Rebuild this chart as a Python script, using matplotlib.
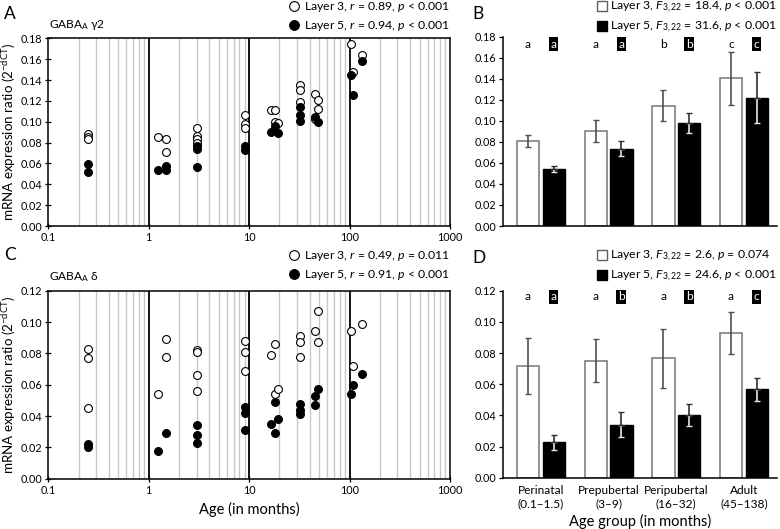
import matplotlib
matplotlib.use("Agg")
import matplotlib.pyplot as plt
from matplotlib.lines import Line2D
import numpy as np

plt.rcParams['font.family'] = ['Lato', 'DejaVu Sans']
plt.rcParams['mathtext.fontset'] = 'custom'
plt.rcParams['mathtext.rm'] = 'Lato'
plt.rcParams['mathtext.it'] = 'Lato:italic'
plt.rcParams['mathtext.default'] = 'regular'

# ---------------- data ----------------
# Panel A: GABAA gamma2 (age in months, expression ratio)
a_l3_age = [0.25, 0.25, 0.25, 1.25, 1.5, 1.5, 3, 3, 3, 3, 9, 9, 9, 16.5, 18, 18, 19.5,
            32, 32, 32, 45, 45, 48, 48, 103, 109, 133]
a_l3_val = [0.088, 0.085, 0.083, 0.085, 0.083, 0.071, 0.094, 0.086, 0.083, 0.080,
            0.106, 0.098, 0.094, 0.111, 0.111, 0.100, 0.099,
            0.135, 0.130, 0.119, 0.127, 0.103, 0.121, 0.112, 0.175, 0.148, 0.164]
a_l5_age = [0.25, 0.25, 1.25, 1.5, 1.5, 3, 3, 3, 9, 9, 16.5, 18, 19.5,
            32, 32, 32, 45, 48, 103, 109, 133]
a_l5_val = [0.059, 0.052, 0.054, 0.058, 0.054, 0.077, 0.074, 0.057, 0.077, 0.073,
            0.090, 0.096, 0.089, 0.114, 0.106, 0.101, 0.105, 0.100, 0.145, 0.126, 0.158]

# Panel C: GABAA delta
c_l3_age = [0.25, 0.25, 0.25, 1.25, 1.5, 1.5, 3, 3, 3, 3, 9, 9, 9, 16.5, 18, 18, 19.5,
            32, 32, 32, 45, 48, 48, 103, 109, 133]
c_l3_val = [0.083, 0.077, 0.045, 0.054, 0.089, 0.078, 0.082, 0.081, 0.066, 0.056,
            0.088, 0.081, 0.069, 0.079, 0.086, 0.054, 0.057,
            0.091, 0.087, 0.078, 0.094, 0.107, 0.087, 0.094, 0.072, 0.099]
c_l5_age = [0.25, 0.25, 1.25, 1.5, 3, 3, 3, 9, 9, 9, 16.5, 18, 18, 19.5,
            32, 32, 32, 45, 45, 48, 103, 109, 133]
c_l5_val = [0.022, 0.020, 0.018, 0.029, 0.034, 0.028, 0.023, 0.046, 0.042, 0.031,
            0.035, 0.049, 0.029, 0.038, 0.048, 0.044, 0.041, 0.053, 0.047, 0.057,
            0.054, 0.060, 0.067]

# Panels B and D: group means and error bars
groups = ['Perinatal\n(0.1\u20131.5)', 'Prepubertal\n(3\u20139)',
          'Peripubertal\n(16\u201332)', 'Adult\n(45\u2013138)']
b_l3_mean = [0.081, 0.0905, 0.1145, 0.1405]
b_l3_err = [0.006, 0.0105, 0.0145, 0.025]
b_l5_mean = [0.0545, 0.0735, 0.098, 0.122]
b_l5_err = [0.003, 0.0073, 0.0093, 0.024]
b_l3_letters = ['a', 'a', 'b', 'c']
b_l5_letters = ['a', 'a', 'b', 'c']

d_l3_mean = [0.0716, 0.0752, 0.0765, 0.093]
d_l3_err = [0.018, 0.014, 0.0187, 0.0134]
d_l5_mean = [0.0227, 0.0339, 0.0401, 0.0566]
d_l5_err = [0.0049, 0.0080, 0.0072, 0.0072]
d_l3_letters = ['a', 'a', 'a', 'a']
d_l5_letters = ['a', 'b', 'b', 'c']

W, H = 780, 529
fig = plt.figure(figsize=(W / 100, H / 100), dpi=100)


def rect(l, t, r, b):
    return [l / W, 1 - b / H, (r - l) / W, (b - t) / H]


axA = fig.add_axes(rect(48.3, 38.3, 450, 226))
axC = fig.add_axes(rect(48.3, 290.7, 450, 478.7))
axB = fig.add_axes(rect(503.3, 36.7, 776.7, 226))
axD = fig.add_axes(rect(503.3, 290.7, 776.7, 477.7))

TICK = 7.8
LEG = 8.8


def put_legend(ax, handles, labels, top_px, right_px, hl, htp):
    ax.legend(handles, labels, loc='upper right',
              bbox_to_anchor=(right_px / W, 1 - top_px / H), bbox_transform=fig.transFigure,
              frameon=False, fontsize=LEG, handlelength=hl, handletextpad=htp,
              borderpad=0, borderaxespad=0, labelspacing=0.42)


def scatter_panel(ax, l3a, l3v, l5a, l5v, ymax, title, leg_labels, leg_top):
    ax.set_xscale('log')
    ax.set_xlim(0.1, 1000)
    ax.set_ylim(0, ymax)
    for dec in [0.1, 1, 10, 100]:
        for k in range(2, 10):
            ax.axvline(dec * k, color='#c8c8c8', lw=1.0, zorder=0)
    for v in [1, 10, 100]:
        ax.axvline(v, color='black', lw=1.3, zorder=1)
    ax.scatter(l3a, l3v, s=32, facecolors='white', edgecolors='black', linewidths=0.8, zorder=3)
    ax.scatter(l5a, l5v, s=32, facecolors='black', edgecolors='black', linewidths=0.8, zorder=4)
    yt = np.arange(0, ymax + 1e-9, 0.02)
    ax.set_yticks(yt)
    ax.set_yticklabels(['%.2f' % v for v in yt])
    ax.set_xticks([0.1, 1, 10, 100, 1000])
    ax.set_xticklabels(['0.1', '1', '10', '100', '1000'])
    ax.xaxis.set_minor_locator(matplotlib.ticker.NullLocator())
    ax.tick_params(axis='both', which='major', direction='inout', length=5, width=0.9,
                   labelsize=TICK, pad=2)
    for s in ax.spines.values():
        s.set_linewidth(1.1)
    ax.set_ylabel('mRNA expression ratio (2$^{\\mathregular{-dCT}}$)', fontsize=9.6,
                  va='center')
    ax.yaxis.set_label_coords((9.5 - 48.3) / (450 - 48.3), 0.5)
    ax.text(0.002, 1.035, title, transform=ax.transAxes, fontsize=8.6, ha='left', va='bottom')
    handles = [Line2D([], [], ls='none', marker='o', ms=7, mfc='white', mec='black', mew=0.8),
               Line2D([], [], ls='none', marker='o', ms=7, mfc='black', mec='black', mew=0.8)]
    put_legend(ax, handles, leg_labels, leg_top, 450, 0.9, 0.35)


scatter_panel(axA, a_l3_age, a_l3_val, a_l5_age, a_l5_val, 0.18,
              'GABA$_{\\mathregular{A}}$ \u03b32',
              ['Layer 3, $\\mathit{r}$ = 0.89, $\\mathit{p}$ < 0.001',
               'Layer 5, $\\mathit{r}$ = 0.94, $\\mathit{p}$ < 0.001'], 0)
scatter_panel(axC, c_l3_age, c_l3_val, c_l5_age, c_l5_val, 0.12,
              'GABA$_{\\mathregular{A}}$ \u03b4',
              ['Layer 3, $\\mathit{r}$ = 0.49, $\\mathit{p}$ = 0.011',
               'Layer 5, $\\mathit{r}$ = 0.91, $\\mathit{p}$ < 0.001'], 249)
axC.set_xlabel('Age (in months)', fontsize=10.5, labelpad=4)


def bar_panel(ax, m3, e3, m5, e5, l3, l5, ymax, ylet, leg_labels, show_x, leg_top):
    x = np.arange(len(m3))
    w = 0.33
    off = 0.19
    ax.bar(x - off, m3, w, color='white', edgecolor='#808080', lw=1.2, zorder=2)
    ax.bar(x + off, m5, w, color='black', edgecolor='black', lw=1.0, zorder=2)
    ax.errorbar(x - off, m3, yerr=e3, fmt='none', ecolor='#505050', elinewidth=1.2,
                capsize=2.5, capthick=1.0, zorder=3)
    ax.errorbar(x + off, m5, yerr=[e5, [0] * len(e5)], fmt='none', ecolor='#e6e6e6',
                elinewidth=1.2, capsize=2.5, capthick=1.0, zorder=3)
    ax.errorbar(x + off, m5, yerr=[[0] * len(e5), e5], fmt='none', ecolor='#303030',
                elinewidth=1.2, capsize=2.5, capthick=1.0, zorder=3)
    for i in range(len(m3)):
        ax.text(x[i] - off, ylet, l3[i], ha='center', va='center', fontsize=8.6)
        ax.text(x[i] + off, ylet, l5[i], ha='center', va='center', fontsize=8.6,
                color='white', bbox=dict(facecolor='black', edgecolor='none', pad=1.2))
    ax.set_xlim(-0.555, 3.485)
    ax.set_ylim(0, ymax)
    yt = np.arange(0, ymax + 1e-9, 0.02)
    ax.set_yticks(yt)
    ax.set_yticklabels(['%.2f' % v for v in yt])
    ax.spines['top'].set_visible(False)
    ax.spines['right'].set_visible(False)
    ax.spines['left'].set_linewidth(1.1)
    ax.spines['bottom'].set_linewidth(1.1)
    ax.tick_params(axis='y', direction='out', length=3, width=0.9, labelsize=TICK, pad=2)
    ax.set_xticks(x)
    if show_x:
        ax.set_xticklabels(groups, fontsize=8.6, linespacing=1.3)
    else:
        ax.set_xticklabels([])
    ax.tick_params(axis='x', length=0, pad=5)
    handles = [Line2D([], [], ls='none', marker='s', ms=7.5, mfc='white', mec='#606060', mew=1.0),
               Line2D([], [], ls='none', marker='s', ms=7.5, mfc='black', mec='black', mew=1.0)]
    put_legend(ax, handles, leg_labels, leg_top, 777, 0.8, 0.3)


bar_panel(axB, b_l3_mean, b_l3_err, b_l5_mean, b_l5_err, b_l3_letters, b_l5_letters,
          0.18, 0.173,
          ['Layer 3, $\\mathit{F}_{\\mathregular{3,22}}$ = 18.4, $\\mathit{p}$ < 0.001',
           'Layer 5, $\\mathit{F}_{\\mathregular{3,22}}$ = 31.6, $\\mathit{p}$ < 0.001'], False, 0)
bar_panel(axD, d_l3_mean, d_l3_err, d_l5_mean, d_l5_err, d_l3_letters, d_l5_letters,
          0.12, 0.116,
          ['Layer 3, $\\mathit{F}_{\\mathregular{3,22}}$ = 2.6, $\\mathit{p}$ = 0.074',
           'Layer 5, $\\mathit{F}_{\\mathregular{3,22}}$ = 24.6, $\\mathit{p}$ < 0.001'], True, 249)
axD.set_xlabel('Age group (in months)', fontsize=10.5, labelpad=3)

for lab, px, py in [('A', 4, 14), ('B', 472, 14), ('C', 4, 255), ('D', 472, 258)]:
    fig.text(px / W, 1 - py / H, lab, fontsize=12.5, ha='left', va='center')

fig.savefig('out.png', dpi=100)
